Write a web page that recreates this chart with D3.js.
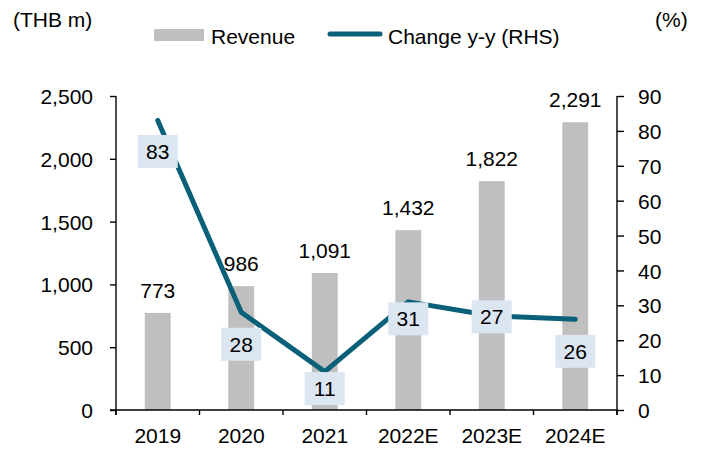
<!DOCTYPE html>
<html>
<head>
<meta charset="utf-8">
<script src="https://cdn.jsdelivr.net/npm/d3@7"></script>
<style>
  body { margin: 0; background: #fff; }
  svg text { font-family: "Liberation Sans", Arial, sans-serif; fill: #000; }
</style>
</head>
<body>
<svg id="chart" width="707" height="450"></svg>
<script>
const years = ["2019", "2020", "2021", "2022E", "2023E", "2024E"];
const revenue = [773, 986, 1091, 1432, 1822, 2291];
const changeYY = [83, 28, 11, 31, 27, 26];
const revTicks = [0, 500, 1000, 1500, 2000, 2500];
const pctTicks = [0, 10, 20, 30, 40, 50, 60, 70, 80, 90];
// how far each % label box sits below its point
const pctLabelDy = [31, 32, 17, 17, 1, 32];

const svg = d3.select("#chart");
const margin = { top: 96, right: 90, bottom: 40, left: 116 };
const width = 707, height = 450;
const x0 = margin.left, x1 = width - margin.right;
const y0 = height - margin.bottom, y1 = margin.top;

const barColor = "#bfbfbf";
const lineColor = "#0b6079";
const boxColor = "#dce6f2";
const fontSize = 21;

const data = years.map((y, i) => ({ year: y, rev: revenue[i], pct: changeYY[i] }));

const xScale = d3.scaleBand().domain(years).range([x0, x1]).padding(0);
const yLeft = d3.scaleLinear().domain([0, 2500]).range([y0, y1]);
const yRight = d3.scaleLinear().domain([0, 90]).range([y0, y1]);
const cx = (d) => xScale(d) + xScale.bandwidth() / 2;
const barW = xScale.bandwidth() * 0.31;

// bars
svg.append("g")
  .selectAll("rect")
  .data(data)
  .enter()
  .append("rect")
  .attr("x", (d) => cx(d.year) - barW / 2)
  .attr("y", (d) => yLeft(d.rev))
  .attr("width", barW)
  .attr("height", (d) => y0 - yLeft(d.rev))
  .style("fill", barColor);

// bar value labels
svg.append("g")
  .selectAll("text")
  .data(data)
  .enter()
  .append("text")
  .attr("x", (d) => cx(d.year))
  .attr("y", (d) => yLeft(d.rev) - 15)
  .attr("text-anchor", "middle")
  .style("font-size", fontSize + "px")
  .text((d) => d3.format(",")(d.rev));

// axes
const fmt = d3.format(",");
const leftAxis = d3.axisLeft(yLeft).tickValues(revTicks).tickFormat(fmt)
  .tickSizeInner(6).tickSizeOuter(0).tickPadding(17);
const rightAxis = d3.axisRight(yRight).tickValues(pctTicks)
  .tickSizeInner(7).tickSizeOuter(0).tickPadding(14);

const gl = svg.append("g").attr("transform", "translate(" + x0 + ",0)").call(leftAxis);
const gr = svg.append("g").attr("transform", "translate(" + x1 + ",0)").call(rightAxis);
[gl, gr].forEach((g) => {
  g.selectAll("path, line").attr("stroke", "#000").attr("stroke-width", 1.4);
  g.selectAll("text")
    .style("font-size", fontSize + "px")
    .attr("font-family", null)
    .attr("dy", "0.36em");
});
gl.select(".domain").attr("d", "M0," + (y1) + "V" + (y0 + 5));
gr.select(".domain").attr("d", "M0," + (y1) + "V" + (y0 + 5));

// x axis line, boundary ticks and labels
const gx = svg.append("g");
gx.append("line")
  .attr("x1", x0 - 6).attr("x2", x1)
  .attr("y1", y0).attr("y2", y0)
  .attr("stroke", "#000").attr("stroke-width", 1.4);
const bounds = years.map((d) => xScale(d)).concat([x1]);
gx.selectAll("line.tick")
  .data(bounds)
  .enter()
  .append("line")
  .attr("class", "tick")
  .attr("x1", (d) => d).attr("x2", (d) => d)
  .attr("y1", y0).attr("y2", y0 + 5)
  .attr("stroke", "#000").attr("stroke-width", 1.4);
gx.selectAll("text")
  .data(years)
  .enter()
  .append("text")
  .attr("x", (d) => cx(d))
  .attr("y", 443)
  .attr("text-anchor", "middle")
  .style("font-size", fontSize + "px")
  .text((d) => d);

// change y-y line
const line = d3.line().x((d) => cx(d.year)).y((d) => yRight(d.pct));
svg.append("path")
  .datum(data)
  .attr("d", line)
  .attr("fill", "none")
  .attr("stroke", lineColor)
  .attr("stroke-width", 5)
  .attr("stroke-linecap", "round")
  .attr("stroke-linejoin", "round");

// % labels in boxes
const boxW = 40, boxH = 33;
const lab = svg.append("g")
  .selectAll("g")
  .data(data)
  .enter()
  .append("g")
  .attr("transform", (d, i) =>
    "translate(" + cx(d.year) + "," + (yRight(d.pct) + pctLabelDy[i]) + ")");
lab.append("rect")
  .attr("x", -boxW / 2).attr("y", -boxH / 2)
  .attr("width", boxW).attr("height", boxH)
  .style("fill", boxColor);
lab.append("text")
  .attr("text-anchor", "middle")
  .attr("dy", "0.36em")
  .style("font-size", fontSize + "px")
  .text((d) => d.pct);

// titles and legend
svg.append("text").attr("x", 13).attr("y", 27)
  .style("font-size", fontSize + "px").text("(THB m)");
svg.append("text").attr("x", 655).attr("y", 27)
  .style("font-size", fontSize + "px").text("(%)");

const legend = svg.append("g");
legend.append("rect")
  .attr("x", 154).attr("y", 29).attr("width", 50).attr("height", 12)
  .style("fill", barColor);
legend.append("text").attr("x", 211).attr("y", 44)
  .style("font-size", fontSize + "px").text("Revenue");
legend.append("line")
  .attr("x1", 330).attr("x2", 380).attr("y1", 34).attr("y2", 34)
  .attr("stroke", lineColor).attr("stroke-width", 5)
  .attr("stroke-linecap", "round");
legend.append("text").attr("x", 388).attr("y", 44)
  .style("font-size", fontSize + "px").text("Change y-y (RHS)");
</script>
</body>
</html>
